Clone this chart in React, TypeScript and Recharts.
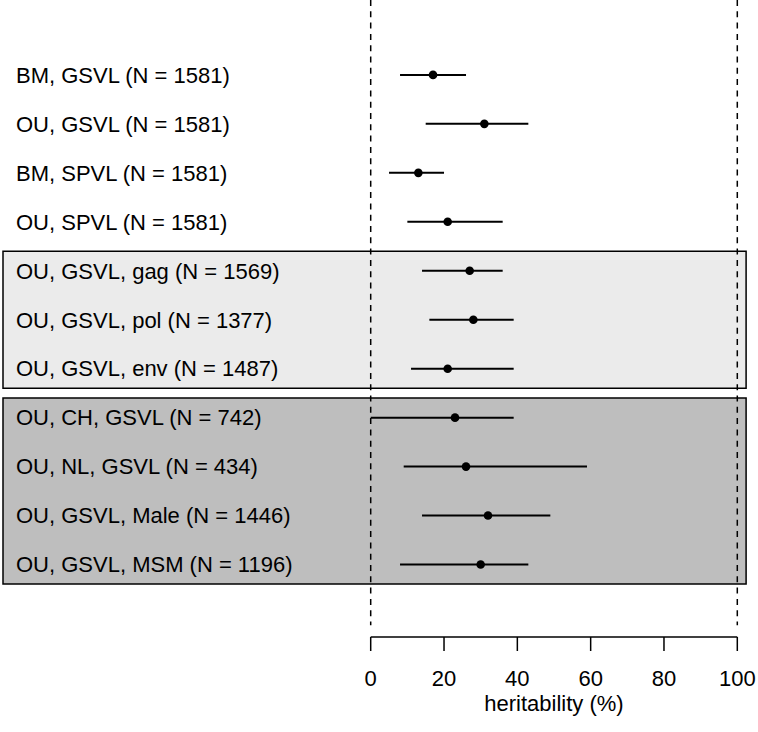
import {
  ScatterChart,
  Scatter,
  XAxis,
  YAxis,
  ErrorBar,
  ReferenceArea,
  ReferenceLine,
} from "recharts";

const labels = [
  "BM, GSVL (N = 1581)",
  "OU, GSVL (N = 1581)",
  "BM, SPVL (N = 1581)",
  "OU, SPVL (N = 1581)",
  "OU, GSVL, gag (N = 1569)",
  "OU, GSVL, pol (N = 1377)",
  "OU, GSVL, env (N = 1487)",
  "OU, CH, GSVL (N = 742)",
  "OU, NL, GSVL (N = 434)",
  "OU, GSVL, Male (N = 1446)",
  "OU, GSVL, MSM (N = 1196)",
];
const estimates = [17, 31, 13, 21, 27, 28, 21, 23, 26, 32, 30];
const lower = [8, 15, 5, 10, 14, 16, 11, 0, 9, 14, 8];
const upper = [26, 43, 20, 36, 36, 39, 39, 39, 59, 49, 43];
const xTicks = [0, 20, 40, 60, 80, 100];

// groups of rows framed by a shaded box (first row, last row)
const lightGroup = [5, 7];
const darkGroup = [8, 11];

const rows = labels.map((_, i) => i + 1);
const data = estimates.map((est, i) => ({
  x: est,
  y: i + 1,
  err: [est - lower[i], upper[i] - est],
}));

const Y_TOP = -0.53;
const Y_BOTTOM = 12.48;
const DASH_END = 12.24;
const BOX_LEFT = -100.3;
const BOX_RIGHT = 102.4;
const FONT = 22;

const RowLabel = (props: any) => {
  const { y, payload } = props;
  return (
    <text x={16} y={y} dy="0.355em" textAnchor="start" fill="#000" fontSize={FONT}>
      {labels[payload.value - 1]}
    </text>
  );
};

const Dot = (props: any) => <circle cx={props.cx} cy={props.cy} r={4.3} fill="#000" />;

export default function App() {
  return (
    <div style={{ width: 758, height: 732, fontFamily: "'Liberation Sans', Arial, sans-serif" }}>
      <style>{"body{margin:0}"}</style>
      <ScatterChart width={758} height={732} margin={{ top: 0, right: 20.7, bottom: 0, left: 0 }}>
        <XAxis
          type="number"
          dataKey="x"
          domain={[0, 100]}
          ticks={xTicks}
          allowDataOverflow
          height={95}
          tickSize={14}
          tickMargin={19}
          axisLine={{ stroke: "#000", strokeWidth: 1.5 }}
          tickLine={{ stroke: "#000", strokeWidth: 1.5 }}
          tick={{ fill: "#000", fontSize: FONT }}
          label={{
            value: "heritability (%)",
            position: "insideBottom",
            offset: 21,
            fill: "#000",
            fontSize: FONT,
          }}
        />
        <YAxis
          type="number"
          dataKey="y"
          domain={[Y_TOP, Y_BOTTOM]}
          reversed
          allowDataOverflow
          ticks={rows}
          interval={0}
          width={370.7}
          axisLine={false}
          tickLine={false}
          tick={<RowLabel />}
        />
        <ReferenceArea
          x1={BOX_LEFT}
          x2={BOX_RIGHT}
          y1={lightGroup[0] - 0.4}
          y2={lightGroup[1] + 0.4}
          ifOverflow="visible"
          fill="#EBEBEB"
          fillOpacity={1}
          stroke="#000"
          strokeWidth={1.5}
        />
        <ReferenceArea
          x1={BOX_LEFT}
          x2={BOX_RIGHT}
          y1={darkGroup[0] - 0.4}
          y2={darkGroup[1] + 0.4}
          ifOverflow="visible"
          fill="#BEBEBE"
          fillOpacity={1}
          stroke="#000"
          strokeWidth={1.5}
        />
        {[0, 100].map((v) => (
          <ReferenceLine
            key={v}
            segment={[
              { x: v, y: Y_TOP },
              { x: v, y: DASH_END },
            ]}
            stroke="#000"
            strokeWidth={1.5}
            strokeDasharray="6 5.3"
            ifOverflow="visible"
          />
        ))}
        <Scatter data={data} shape={Dot} isAnimationActive={false}>
          <ErrorBar
            dataKey="err"
            direction="x"
            width={0}
            stroke="#000"
            strokeWidth={2}
            isAnimationActive={false}
          />
        </Scatter>
      </ScatterChart>
    </div>
  );
}
